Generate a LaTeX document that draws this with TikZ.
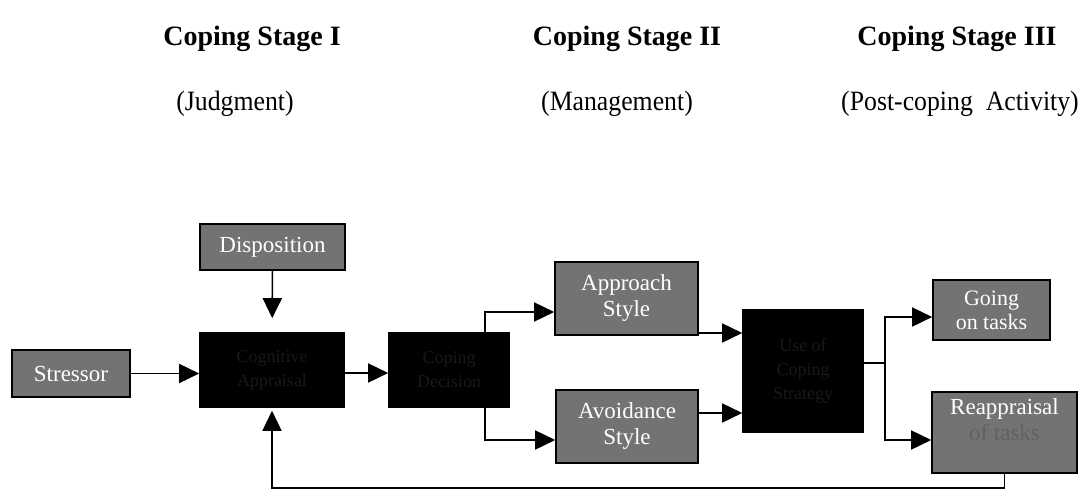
\documentclass[tikz,border=0pt]{standalone}
\usepackage{fontspec}
\setmainfont{Liberation Serif}
\newfontfamily\subfont[FakeStretch=0.92]{Liberation Serif}
\usetikzlibrary{arrows.meta,calc}
\begin{document}
\begin{tikzpicture}[x=1pt,y=-1pt,
  grybox/.style={draw=black,line width=1.6pt,fill=black!55,text=white,font=\fontsize{23}{26}\selectfont,align=center,inner sep=0pt},
  blkbox/.style={draw=black,line width=1.6pt,fill=black,text=black!90,font=\fontsize{18}{24}\selectfont,align=center,inner sep=0pt},
  conn/.style={line width=1.6pt},
  arr/.style={conn,-{Triangle[length=20pt,width=19pt]}},
  ttl/.style={font=\fontsize{28}{30}\selectfont\bfseries,anchor=base},
  sub/.style={font=\subfont\fontsize{28}{30}\selectfont,anchor=base}]
\useasboundingbox (0,0) rectangle (1090,489);
% titles
\node[ttl] (t1) at (252,46) {Coping Stage I};
\node[ttl] (t2) at (627,46) {Coping Stage II};
\node[ttl] (t3) at (957,46) {Coping Stage III};
\node[sub] (s1) at (235,111) {(Judgment)};
\node[sub] (s2) at (617,111) {(Management)};
\node[sub] (s3) at (960,111) {(Post-coping\ \ Activity)};
% boxes
\node[grybox,minimum width=118pt,minimum height=47pt] (stressor) at (71,373.5) {Stressor};
\node[grybox,minimum width=145pt,minimum height=46pt] (disp) at (272.5,247) {Disposition};
\node[blkbox,minimum width=144pt,minimum height=74pt] (cog) at (272,370) {Cognitive\\Appraisal};
\node[blkbox,minimum width=120pt,minimum height=74pt] (dec) at (449,370) {Coping\\Decision};
\node[grybox,minimum width=143pt,minimum height=73pt] (appr) at (626.5,298.5) {Approach\\Style};
\node[grybox,minimum width=142pt,minimum height=73pt] (avoid) at (627,426.5) {Avoidance\\Style};
\node[blkbox,minimum width=120pt,minimum height=122pt] (use) at (803,371) {Use of\\Coping\\Strategy};
\node[grybox,minimum width=117pt,minimum height=60pt,font=\fontsize{22}{24}\selectfont] (going) at (991.5,310) {Going\\on tasks};
\node[grybox,minimum width=145pt,minimum height=81pt,text height=17pt] (reap) at (1004.5,432.5) {Reappraisal\\{\color{black!62}of tasks}};
% connectors
\draw[arr] (stressor.east) -- (stressor.east -| cog.west);
\draw[arr,shorten >=14pt] (disp) -- (cog);
\draw[arr] ([yshift=-3pt]cog.east) -- ([yshift=-3pt]dec.west);
\draw[arr] ([xshift=36pt]dec.north) |- ([yshift=-13.5pt]appr.west);
\draw[arr] ([xshift=36pt]dec.south) |- ([yshift=-13.5pt]avoid.west);
\coordinate (a1) at ([yshift=-34.5pt]appr.east);
\coordinate (a2) at ([yshift=13.5pt]avoid.east);
\draw[arr] (a1) -- (a1 -| use.west);
\draw[arr] (a2) -- (a2 -| use.west);
\coordinate (uo) at ([yshift=8pt]use.east);
\coordinate (j) at (885,363);
\draw[conn] (uo) -- (j);
\draw[arr] (j) |- ([yshift=-7pt]going.west);
\draw[arr] (j) |- ([yshift=-7.5pt]reap.west);
\coordinate (fb) at ([yshift=-14pt]reap.south);
\draw[arr,shorten >=3pt] (reap.south) -- (fb) -| (cog.south);
\end{tikzpicture}
\end{document}
